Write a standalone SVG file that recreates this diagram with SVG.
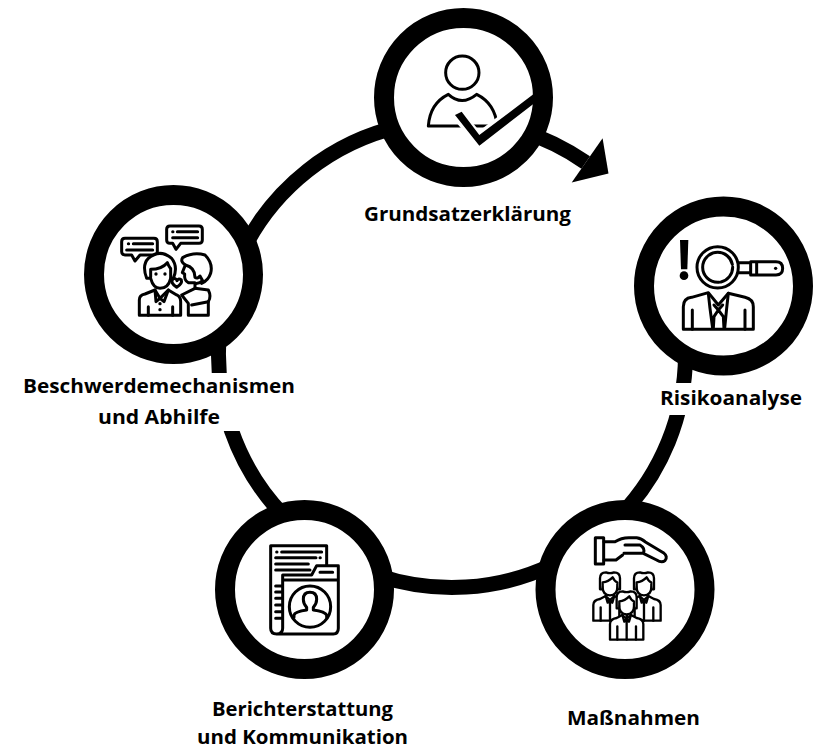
<svg xmlns="http://www.w3.org/2000/svg" width="818" height="750" viewBox="0 0 818 750">
<style>
.ring{fill:#fff;stroke:#000;stroke-width:20}
.link{fill:none;stroke:#000;stroke-width:15}
.lab{font-family:"Open Sans","Lato",sans-serif;font-weight:700;font-size:20px;fill:#000;text-anchor:start}
.ic{fill:none;stroke:#000;stroke-width:9;stroke-linejoin:round;stroke-linecap:round}
.icw{fill:#fff;stroke:#000;stroke-width:9;stroke-linejoin:round;stroke-linecap:round}
.thin{stroke-width:7}
.bl{fill:#000;stroke:none}
</style>
<defs>
<marker id="head" markerUnits="userSpaceOnUse" markerWidth="60" markerHeight="70" refX="0" refY="35" orient="auto" overflow="visible">
<path d="M0,5.500 L0,59.500 L25,31 Z" fill="#000"/>
</marker>
<g id="worker">
<path class="icw thin" d="M-50,112 V65 Q-50,50 -30,47 L-13,38 L0,50 L13,38 L30,47 Q50,50 50,65 V112 Z"/>
<path class="ic thin" d="M0,50 V112 M-28,72 V112 M28,72 V112 M-13,38 L-7,58 L0,50 L7,58 L13,38"/>
<path class="icw thin" d="M-30,18 V-15 Q-30,-33 -12,-33 Q0,-28 12,-33 Q30,-33 30,-15 V18 H22 V12 Q22,36 0,36 Q-22,36 -22,12 V18 Z"/>
<path class="ic thin" d="M-22,10 V-3 Q-5,-5 8,-18 Q14,-5 22,-3 V10"/>
</g>
</defs>
<g id="connectors">
<path class="link" d="M685.500,355 A233.500,233.500 0 0 1 620,516"/>
<path class="link" d="M552,565 A233.500,233.500 0 0 1 378,575.500"/>
<path class="link" d="M285,517 A233.500,233.500 0 0 1 219.700,330"/>
<path class="link" d="M243,250 A233.500,233.500 0 0 1 400,126.400"/>
<path class="link" d="M520,130.600 A233.500,233.500 0 0 1 585.700,162.500" marker-end="url(#head)"/>
</g>
<g id="node-grundsatz">
<circle class="ring" cx="463.500" cy="97.500" r="79.500"/>
<g transform="translate(360 0) scale(.3333)">
<circle class="ic" cx="307" cy="218" r="50"/>
<path class="ic" d="M205,378 Q210,310 265,283 Q305,320 350,283 Q405,310 412,378 Z"/>
<path fill="#fff" d="M275,352 L303,328 L358,392 L440,330 L450,350 L358,448 Z"/>
<path class="bl" d="M285,345 L305,335 L358,405 L520,283 L520,312 L358,437 Z"/>
</g>
<text class="lab" x="364" y="221" textLength="207" lengthAdjust="spacingAndGlyphs">Grundsatzerklärung</text>
</g>
<g id="node-risikoanalyse">
<circle class="ring" cx="723.500" cy="286" r="79.500"/>
<g transform="translate(630 210) scale(.3333)">
<path class="bl" d="M150,90 H175 L172,178 H153 Z"/>
<circle class="bl" cx="162" cy="197" r="13"/>
<circle class="ic" cx="263" cy="172" r="62"/>
<circle class="ic" cx="263" cy="172" r="45" stroke-dasharray="60 6 110 6 90 8"/>
<path class="ic" d="M325,158 H362 M325,188 H362 M362,155 H438 Q458,155 458,175 Q458,195 438,195 H362 Z M380,155 V195"/>
<circle class="bl" cx="437" cy="175" r="5"/>
<path class="ic" d="M160,358 V290 Q160,265 185,262 L235,248 L265,285 L295,250 L345,262 Q370,268 370,290 V358 Z"/>
<path class="ic" d="M235,250 L240,295 L248,355 M295,250 L290,295 L284,355 M252,285 L265,300 L278,285 M265,300 L252,320 L250,355 M265,300 L280,320 L282,355 M187,358 V300 M345,358 V300"/>
</g>
<rect x="655" y="383" width="153" height="32" fill="#fff"/>
<text class="lab" x="660" y="405" textLength="142" lengthAdjust="spacingAndGlyphs">Risikoanalyse</text>
</g>
<g id="node-massnahmen">
<circle class="ring" cx="625" cy="589.500" r="79.500"/>
<g transform="translate(530 500) scale(.3333)">
<rect class="ic" x="196" y="113" width="25" height="79"/>
<path class="ic" d="M222,125 H255 Q275,112 300,113 H320 Q335,115 345,125 L400,158 Q415,170 405,182 Q395,190 380,180 L340,160 H282 M340,160 Q347,145 330,135 H285 M222,180 H258 L278,165"/>
<use href="#worker" x="240" y="250"/>
<use href="#worker" x="342" y="250"/>
<use href="#worker" x="290" y="307"/>
</g>
<text class="lab" x="567" y="725" textLength="133" lengthAdjust="spacingAndGlyphs">Maßnahmen</text>
</g>
<g id="node-bericht">
<circle class="ring" cx="304.500" cy="589.500" r="79.500"/>
<g transform="translate(210 500) scale(.3333)">
<path class="ic" d="M350,195 V137 H182 V385 Q182,402 200,402 H370 Q385,402 385,385 V197 H320 L305,225 H218 V385 Q218,402 200,402 M218,240 H385"/>
<path class="ic" d="M200,156 H201 M215,156 H335 M330,173 H331 M197,173 H318 M197,192 H295 M197,210 H300 M330,217 H368 M197,258 H215 M197,276 H215 M197,295 H215 M197,315 H215 M197,335 H215 M197,355 H215"/>
<circle class="ic" cx="300" cy="320" r="62"/>
<path class="ic" d="M252,352 V345 Q255,335 290,330 V322 Q280,312 280,298 Q280,277 300,277 Q320,277 320,298 Q320,312 310,322 V330 Q345,335 350,345 V352"/>
</g>
<text class="lab" x="212" y="716" textLength="181" lengthAdjust="spacingAndGlyphs">Berichterstattung</text>
<text class="lab" x="197" y="744" textLength="211" lengthAdjust="spacingAndGlyphs">und Kommunikation</text>
</g>
<g id="node-beschwerde">
<circle class="ring" cx="173.500" cy="274.500" r="79.500"/>
<g transform="translate(80 190) scale(.3333)">
<path class="ic" d="M135,145 H222 Q232,145 232,155 V185 Q232,195 222,195 H180 L165,213 L155,195 H135 Q125,195 125,185 V155 Q125,145 135,145 Z"/>
<path class="ic" d="M145,161 H146 M160,161 H218 M140,180 H218"/>
<path class="ic" d="M270,108 H357 Q367,108 367,118 V150 Q367,160 357,160 H302 L288,178 L278,160 H270 Q260,160 260,150 V118 Q260,108 270,108 Z"/>
<path class="ic" d="M278,125 H279 M292,125 H353 M278,143 H353"/>
<path class="icw" d="M325,376 V340 L305,315 L345,295 L385,300 Q395,320 385,335 V376 Z"/>
<path class="ic" d="M385,335 L335,345"/>
<path class="icw" d="M345,295 V278 H325 Q312,272 314,252 L307,248 L316,225 Q345,232 345,262 Q352,268 360,258 L368,272 Q358,282 345,280"/>
<path class="ic" d="M316,225 Q300,215 308,203 Q340,185 375,195 Q400,220 392,250 Q385,272 365,280"/>
<path class="icw" d="M178,376 V330 Q178,315 195,312 L225,300 L240,325 L265,300 L290,315 Q302,320 302,335 V376 Z"/>
<path class="ic" d="M205,350 V376 M278,350 V376 M225,300 L228,335 L240,325 L252,335 L265,300"/>
<circle class="bl" cx="240" cy="341" r="5"/>
<circle class="bl" cx="240" cy="359" r="5"/>
<path class="icw" d="M200,265 Q185,225 205,205 Q240,175 275,205 Q295,230 280,265 H272 Q265,295 240,295 Q220,295 212,265 Z"/>
<path class="ic" d="M212,262 V238 Q245,238 262,218 Q268,232 272,235 V262"/>
<circle class="bl" cx="228" cy="252" r="5"/>
<circle class="bl" cx="255" cy="252" r="5"/>
<path class="icw" d="M290,292 Q270,278 278,268 Q287,262 291,272 Q296,263 304,270 Q308,280 290,292 Z"/>
</g>
<rect x="18" y="373" width="282" height="58" fill="#fff"/>
<text class="lab" x="23" y="393" textLength="272" lengthAdjust="spacingAndGlyphs">Beschwerdemechanismen</text>
<text class="lab" x="98" y="424" textLength="122" lengthAdjust="spacingAndGlyphs">und Abhilfe</text>
</g>
</svg>
